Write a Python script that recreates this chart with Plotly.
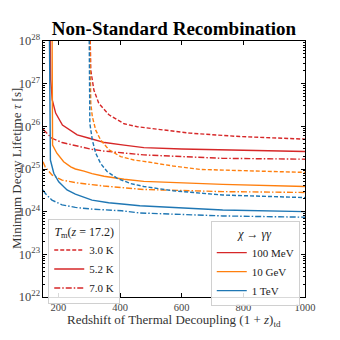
import plotly.graph_objects as go

# log10 of the minimum lifetime
# 3.0 K (dashed)
z_red_30 = [301, 305, 315, 331, 364, 413, 456, 497, 627, 789, 1000]
t_red_30 = [29.0, 27.32, 26.85, 26.54, 26.27, 26.06, 25.99, 25.95, 25.84, 25.76, 25.70]
z_org_30 = [300, 305, 310, 321, 337, 364, 402, 445, 477, 572, 659, 1000]
t_org_30 = [29.0, 26.54, 26.23, 25.91, 25.68, 25.45, 25.29, 25.21, 25.18, 25.07, 24.99, 24.92]
z_blu_30 = [299, 302, 310, 321, 337, 358, 391, 434, 477, 572, 733, 1000]
t_blu_30 = [29.0, 26.07, 25.68, 25.37, 25.13, 24.94, 24.78, 24.66, 24.59, 24.49, 24.39, 24.33]

# 5.2 K (solid)
z_red_52 = [172, 175, 180, 191, 213, 261, 300, 350, 413, 477, 600, 733, 1000]
t_red_52 = [29.0, 27.09, 26.62, 26.31, 26.03, 25.80, 25.72, 25.62, 25.56, 25.50, 25.47, 25.45, 25.41]
z_org_52 = [179, 181, 195, 217, 240, 255, 283, 309, 348, 413, 477, 733, 1000]
t_org_52 = [29.0, 25.56, 25.37, 25.17, 25.05, 25.00, 24.95, 24.89, 24.83, 24.76, 24.71, 24.64, 24.59]
z_blu_52 = [170, 174, 185, 201, 228, 255, 309, 363, 406, 464, 733, 1000]
t_blu_52 = [29.0, 25.21, 24.90, 24.70, 24.51, 24.41, 24.27, 24.21, 24.18, 24.14, 24.04, 24.00]

# 7.0 K (dash-dot)
z_red_70 = [150, 179, 212, 255, 309, 348, 413, 477, 733, 1000]
t_red_70 = [25.93, 25.72, 25.62, 25.55, 25.46, 25.42, 25.37, 25.33, 25.25, 25.23]
z_org_70 = [150, 157, 179, 212, 255, 309, 348, 413, 477, 733, 1000]
t_org_70 = [25.17, 25.05, 24.86, 24.74, 24.68, 24.63, 24.60, 24.56, 24.52, 24.47, 24.45]
z_blu_70 = [150, 157, 179, 212, 255, 309, 406, 464, 733, 1000]
t_blu_70 = [24.51, 24.43, 24.27, 24.16, 24.10, 24.06, 24.02, 23.97, 23.90, 23.87]

masses = ['100 MeV', '10 GeV', '1 TeV']
temps = ['3.0 K', '5.2 K', '7.0 K']

RED, ORG, BLU = '#d62728', '#ff7f0e', '#1f77b4'
DASH = {'3.0 K': '4px,2px', '5.2 K': 'solid', '7.0 K': '6px,2px,1.5px,2px'}
SERIF = 'Liberation Serif'

curves = [
    (z_red_30, t_red_30, RED, '3.0 K'), (z_red_52, t_red_52, RED, '5.2 K'), (z_red_70, t_red_70, RED, '7.0 K'),
    (z_org_30, t_org_30, ORG, '3.0 K'), (z_org_52, t_org_52, ORG, '5.2 K'), (z_org_70, t_org_70, ORG, '7.0 K'),
    (z_blu_30, t_blu_30, BLU, '3.0 K'), (z_blu_52, t_blu_52, BLU, '5.2 K'), (z_blu_70, t_blu_70, BLU, '7.0 K'),
]

fig = go.Figure()
for zs, ts, col, tm in curves:
    fig.add_trace(go.Scatter(x=zs, y=[10 ** t for t in ts], mode='lines', showlegend=False,
                             line=dict(color=col, width=1.4, dash=DASH[tm])))

# legend entries
for tm in temps:
    fig.add_trace(go.Scatter(x=[None], y=[None], mode='lines', name=tm, legend='legend',
                             line=dict(color=RED, width=1.4, dash=DASH[tm])))
for m, col in zip(masses, [RED, ORG, BLU]):
    fig.add_trace(go.Scatter(x=[None], y=[None], mode='lines', name=m, legend='legend2',
                             line=dict(color=col, width=1.4)))

leg = dict(bgcolor='rgba(255,255,255,0.85)', bordercolor='#d0d0d0', borderwidth=1,
           font=dict(family=SERIF, size=11, color='#222'), yanchor='top',
           tracegroupgap=0, itemwidth=30)

# the page puts the figure 8px in from the top-left corner, so margins are shifted to match
fig.update_layout(
    width=340, height=340,
    margin=dict(l=35, r=43, t=33, b=51),
    plot_bgcolor='white', paper_bgcolor='white',
    font=dict(family=SERIF, color='#222'),
    title=dict(text='<b>Non-Standard Recombination</b>', x=0.5, xref='paper', xanchor='center',
               y=0.941, yanchor='middle', font=dict(family=SERIF, size=19, color='black')),
    legend=dict(leg, x=0.02, y=0.305, xanchor='left',
                title=dict(text='<i>T</i><sub>m</sub>(<i>z</i> = 17.2)', side='top center',
                           font=dict(family=SERIF, size=12))),
    legend2=dict(leg, x=0.98, y=0.295, xanchor='right',
                 title=dict(text='<i>χ</i> → <i>γγ</i>', side='top center',
                            font=dict(family=SERIF, size=12))),
)

# axis titles as annotations so they sit where the reference has them
fig.add_annotation(text='Redshift of Thermal Decoupling (1 + <i>z</i>)<sub>td</sub>',
                   xref='paper', yref='paper', x=0.5, y=-0.05, yanchor='top', showarrow=False,
                   font=dict(family=SERIF, size=13, color='#333'))
fig.add_annotation(text='Minimum Decay Lifetime <i>τ</i> [s]', textangle=-90,
                   xref='paper', yref='paper', x=-0.103, y=0.5, xanchor='center', showarrow=False,
                   font=dict(family=SERIF, size=13, color='#333'))

fig.update_xaxes(range=[150, 1000], dtick=200, ticks='inside', ticklen=4, tickcolor='black',
                 showline=True, linecolor='black', linewidth=1, mirror='allticks', showgrid=False,
                 zeroline=False, automargin=False, tickfont=dict(family=SERIF, size=10.5, color='#444'))
fig.update_yaxes(type='log', range=[22, 28], dtick=1, exponentformat='power', ticks='inside', ticklen=4,
                 tickcolor='black', showline=True, linecolor='black', linewidth=1, mirror='allticks',
                 showgrid=False, zeroline=False, automargin=False,
                 tickfont=dict(family=SERIF, size=10, color='#444'),
                 minor=dict(ticks='inside', ticklen=2, dtick='D1', tickcolor='black', showgrid=False))

fig.write_html('out.html')
